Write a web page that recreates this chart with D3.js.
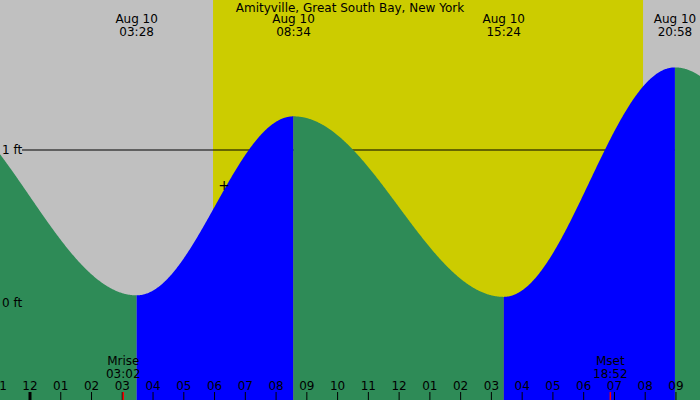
<!DOCTYPE html>
<html><head><meta charset="utf-8">
<script src="https://cdn.jsdelivr.net/npm/d3@7.9.0/dist/d3.min.js"></script>
<style>body{margin:0}svg{display:block;font-family:"DejaVu Sans",sans-serif}</style>
</head><body><svg id="c" width="700" height="400"></svg>
<script>
// tide extremes: hours from midnight Aug 10, height in ft
const extremeHours = [-3.5, 3.467, 8.567, 15.4, 20.967, 27.8];
const extremeHeights = [1.35, 0.05, 1.22, 0.04, 1.54, -0.1];
const extremeLabels = ['', '03:28', '08:34', '15:24', '20:58', ''];
const sunrise = 5.95, sunset = 19.93;
const moonrise = 3.033, moonset = 18.867;
const hourLabels = ['11','12','01','02','03','04','05','06','07','08','09','10','11','12','01','02','03','04','05','06','07','08','09'];

const svg = d3.select('#c');
const W = 700, H = 400;
const x = d3.scaleLinear().domain([0, 1]).range([30, 60.76]);
const y = d3.scaleLinear().domain([0, 1]).range([303, 150]);

// night / day background
svg.append('rect').attr('width', W).attr('height', H).attr('fill', '#c0c0c0');
svg.append('rect').attr('x', x(sunrise)).attr('width', x(sunset) - x(sunrise))
  .attr('y', 0).attr('height', H).attr('fill', '#cccc00');

// 1 ft line (behind tide fill)
svg.append('line').attr('x1', 22).attr('x2', W).attr('y1', y(1)).attr('y2', y(1)).attr('stroke', '#000');

function tideAt(t) {
  for (let i = 0; i < extremeHours.length - 1; i++) {
    const a = extremeHours[i], b = extremeHours[i + 1];
    if (t >= a && t <= b) {
      const p = (t - a) / (b - a);
      const h0 = extremeHeights[i], h1 = extremeHeights[i + 1];
      return h1 + (h0 - h1) * (1 + Math.cos(Math.PI * p)) / 2;
    }
  }
  return 0;
}

const area = d3.area().x(d => x(d)).y0(H).y1(d => y(tideAt(d)));
for (let i = 0; i < extremeHours.length - 1; i++) {
  const a = Math.max(extremeHours[i], x.invert(0));
  const b = Math.min(extremeHours[i + 1], x.invert(W));
  if (b <= a) continue;
  const pts = d3.range(a, b, 0.02).concat([b]);
  const rising = extremeHeights[i + 1] > extremeHeights[i];
  svg.append('path').attr('d', area(pts)).attr('fill', rising ? '#0000ff' : '#2e8b57');
}

// y labels
svg.append('text').attr('x', 2).attr('y', y(1) + 4).attr('font-size', 12).text('1 ft');
svg.append('text').attr('x', 2).attr('y', y(0) + 4).attr('font-size', 12).text('0 ft');

// title
svg.append('text').attr('x', 350).attr('y', 12).attr('text-anchor', 'middle').attr('font-size', 12)
  .text('Amityville, Great South Bay, New York');

// extreme labels
extremeHours.forEach((t, i) => {
  if (!extremeLabels[i]) return;
  const g = svg.append('g').attr('font-size', 12).attr('text-anchor', 'middle');
  const cx = Math.min(x(t), 677);
  g.append('text').attr('x', cx).attr('y', 23).text('Aug 10');
  g.append('text').attr('x', cx).attr('y', 36).text(extremeLabels[i]);
});

// sunrise marker
svg.append('text').attr('x', 224).attr('y', 190).attr('text-anchor', 'middle').attr('font-size', 14).text('+');

// hour ticks
hourLabels.forEach((lab, i) => {
  const t = i - 1;
  svg.append('line').attr('x1', x(t)).attr('x2', x(t)).attr('y1', 392).attr('y2', H)
    .attr('stroke', '#000').attr('stroke-width', t === 0 ? 3 : 1);
  svg.append('text').attr('x', x(t)).attr('y', 390).attr('text-anchor', 'middle').attr('font-size', 12).text(lab);
});

// moon
[[moonrise, 'Mrise', '03:02'], [moonset, 'Mset', '18:52']].forEach(([t, a, b]) => {
  svg.append('line').attr('x1', x(t)).attr('x2', x(t)).attr('y1', 392).attr('y2', H).attr('stroke', '#f00').attr('stroke-width', 1.5);
  svg.append('text').attr('x', x(t)).attr('y', 365).attr('text-anchor', 'middle').attr('font-size', 12).text(a);
  svg.append('text').attr('x', x(t)).attr('y', 378).attr('text-anchor', 'middle').attr('font-size', 12).text(b);
});
</script></body></html>
